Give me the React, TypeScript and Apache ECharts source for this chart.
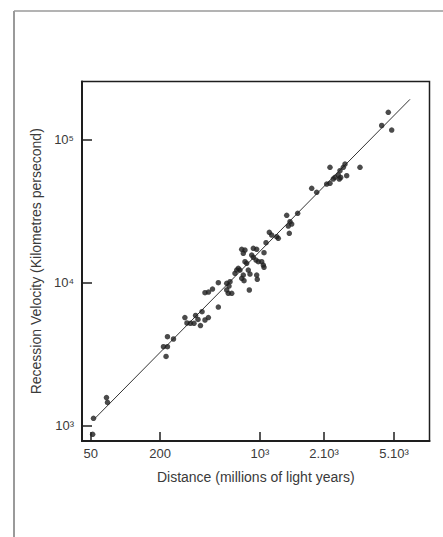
import React, { useEffect, useRef } from "react";
import * as echarts from "echarts";

// Distance (millions of light years) and recession velocity (km/s) of each galaxy
const distances = [
  67.4, 68.3, 84.2, 85.6, 211, 225, 225, 220, 248, 298, 308, 326, 345, 354, 368,
  383, 393, 412, 435, 511, 412, 436, 465, 511, 585, 607, 617, 585, 600, 634, 668,
  687, 705, 724, 764, 745, 773, 851, 828, 785, 807, 745, 785, 764, 898, 948, 875,
  898, 938, 1067, 1028, 1055, 1067, 957, 842, 1102, 1162, 1207, 1309, 1343, 1604,
  1538, 1836, 1622, 1667, 1578, 2301, 2494, 2930, 3090, 3090, 3260, 3350, 3532,
  3631, 3830, 3936, 3590, 3672, 4045, 5012, 7111, 7910, 8355, 948, 973,
];
const velocities = [
  870, 1126, 1574, 1453, 3570, 3570, 4195, 3050, 4043, 5716, 5232, 5207, 5207,
  5904, 5537, 5025, 6277, 5492, 5716, 6770, 8524, 8622, 9048, 10016, 9920, 9497,
  10178, 8906, 8442, 8442, 11654, 12290, 12635, 12290, 11340, 10752, 10344, 11524,
  12290, 14051, 13693, 17161, 16969, 16089, 17440, 17161, 15651, 15083, 14441,
  16245, 14051, 13323, 12838, 10580, 8906, 19085, 22567, 21606, 21022, 20488,
  22207, 29683, 30654, 26773, 25800, 24980, 45867, 43000, 49149, 49707, 64357,
  53296, 54776, 56846, 60908, 64357, 67836, 53296, 54600, 56209, 64357, 126250,
  156130, 117380, 11340, 14050,
];

// Fitted Hubble line end points
const fitDistances = [70, 11220];
const fitVelocities = [1126, 192500];

// Axis ranges and tick marks (as drawn in the figure)
const xRange = [56.75, 15370];
const yRange = [781, 256600];
const xTickValues = [65.3, 200, 1000, 2805, 8670];
const xTickLabels = ["50", "200", "10³", "2.10³", "5.10³"];
const yTickValues = [1000, 10000, 100000];
const yTickLabels = ["10³", "10⁴", "10⁵"];

const FONT = "'Liberation Sans', Arial, sans-serif";
const INK = "#1e1e1e";
const TEXT = "#3a3a3a";

function labelFor(values: number[], labels: string[], v: number): string {
  for (let i = 0; i < values.length; i++) {
    if (Math.abs(Math.log10(values[i]) - v) < 1e-6) return labels[i];
  }
  return "";
}

export default function App() {
  const ref = useRef<HTMLDivElement>(null);

  useEffect(() => {
    if (!ref.current) return;
    const chart = echarts.init(ref.current, undefined, { renderer: "svg" });
    const xTicksLog = xTickValues.map((v) => Math.log10(v));
    const yTicksLog = yTickValues.map((v) => Math.log10(v));
    const points = distances.map((d, i) => [Math.log10(d), Math.log10(velocities[i])]);
    const fit = fitDistances.map((d, i) => [Math.log10(d), Math.log10(fitVelocities[i])]);

    chart.setOption({
      animation: false,
      backgroundColor: "#ffffff",
      grid: {
        left: 82,
        top: 81.5,
        right: 13.5,
        bottom: 96,
        show: true,
        borderColor: INK,
        borderWidth: 1.5,
        backgroundColor: "transparent",
      },
      xAxis: {
        type: "value",
        min: Math.log10(xRange[0]),
        max: Math.log10(xRange[1]),
        name: "Distance (millions of light years)",
        nameLocation: "middle",
        nameGap: 29,
        nameTextStyle: { fontFamily: FONT, fontSize: 14, color: TEXT },
        axisLine: { show: true, lineStyle: { color: INK, width: 2 } },
        axisTick: {
          show: true,
          inside: true,
          length: 9,
          customValues: xTicksLog,
          lineStyle: { color: INK, width: 1.5 },
        },
        axisLabel: {
          show: true,
          customValues: xTicksLog,
          margin: 6,
          fontFamily: FONT,
          fontSize: 13,
          color: TEXT,
          formatter: (v: number) => labelFor(xTickValues, xTickLabels, v),
        },
        splitLine: { show: false },
      },
      yAxis: {
        type: "value",
        min: Math.log10(yRange[0]),
        max: Math.log10(yRange[1]),
        name: "Recession Velocity (Kilometres persecond)",
        nameLocation: "middle",
        nameGap: 39,
        nameTextStyle: { fontFamily: FONT, fontSize: 14, color: TEXT },
        axisLine: { show: true, lineStyle: { color: INK, width: 2 } },
        axisTick: {
          show: true,
          inside: true,
          length: 10,
          customValues: yTicksLog,
          lineStyle: { color: INK, width: 1.5 },
        },
        axisLabel: {
          show: true,
          customValues: yTicksLog,
          margin: 8,
          fontFamily: FONT,
          fontSize: 13,
          color: TEXT,
          formatter: (v: number) => labelFor(yTickValues, yTickLabels, v),
        },
        splitLine: { show: false },
      },
      graphic: [
        {
          type: "line",
          shape: { x1: 14, y1: 11, x2: 443, y2: 11 },
          style: { stroke: "#9a9a9a", lineWidth: 1.5 },
          silent: true,
        },
        {
          type: "line",
          shape: { x1: 14, y1: 11, x2: 14, y2: 537 },
          style: { stroke: "#9a9a9a", lineWidth: 2 },
          silent: true,
        },
      ],
      series: [
        {
          type: "line",
          data: fit,
          showSymbol: false,
          symbol: "none",
          lineStyle: { color: "#333", width: 1 },
          silent: true,
          z: 1,
        },
        {
          type: "scatter",
          data: points,
          symbol: "circle",
          symbolSize: 5.5,
          itemStyle: { color: INK },
          z: 2,
        },
      ],
    });
    return () => chart.dispose();
  }, []);

  return (
    <div
      ref={ref}
      style={{ position: "fixed", left: 0, top: 0, width: 443, height: 537, background: "#fff" }}
    />
  );
}
